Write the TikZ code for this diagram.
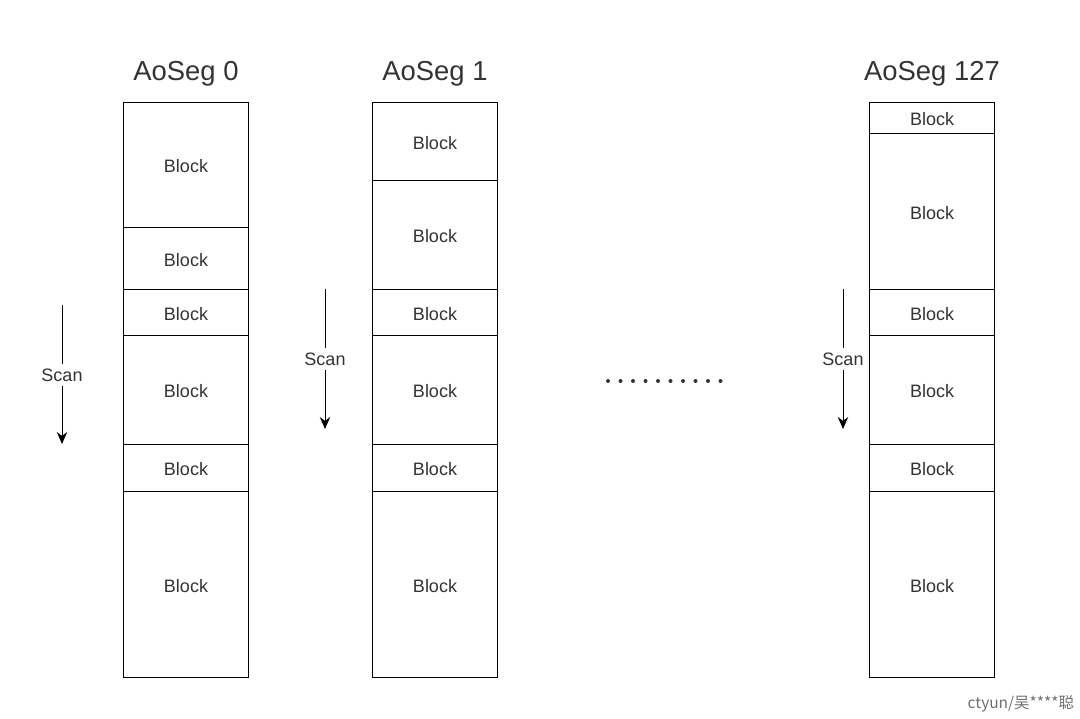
\documentclass[tikz,border=0pt]{standalone}
\usepackage{fontspec}
\setmainfont{Liberation Sans}
\newfontfamily\cjk{Noto Sans CJK SC}
\usetikzlibrary{arrows.meta, positioning}
\definecolor{inkgray}{HTML}{333333}
\definecolor{markgray}{HTML}{6E6E6E}

\begin{document}
\begin{tikzpicture}[
            x=0.025cm, y=-0.025cm,
            >={Stealth[length=3mm, width=2.6mm]},
            % Estilo dos blocos
            blockbox/.style={
                draw=black,
                fill=white,
                rectangle,
                minimum width=3.1cm,
                line width=0.7pt,
                inner sep=0pt,
                text height=12pt,
                text depth=0pt,
                text=inkgray,
                font=\fontsize{12.8}{14}\selectfont
            },
            % Estilo dos titulos
            segtitle/.style={
                text=inkgray,
                font=\fontsize{19.5}{22}\selectfont
            },
            % Estilo das setas de varredura
            scanline/.style={
                draw=black,
                line width=0.7pt
            },
            scanlabel/.style={
                text=inkgray,
                inner sep=3pt,
                font=\fontsize{12.8}{14}\selectfont
            }
        ]

            \useasboundingbox (0,0) rectangle (1080,718);

            % Titulos dos segmentos
            \node [segtitle] (title0) at (186,74) {AoSeg 0};
            \node [segtitle] (title1) at (435,74) {AoSeg 1};
            \node [segtitle] (title127) at (932,74) {AoSeg 127};

            % Blocos do AoSeg 0
            \foreach \a/\b/\i in {102/227/1, 227/289/2, 289/335/3, 335/444/4, 444/491/5, 491/677/6}
                \node [blockbox, minimum height={(\b-\a)*0.025cm}] (seg0b\i) at (186,{(\a+\b)/2}) {Block};

            % Blocos do AoSeg 1
            \foreach \a/\b/\i in {102/180/1, 180/289/2, 289/335/3, 335/444/4, 444/491/5, 491/677/6}
                \node [blockbox, minimum height={(\b-\a)*0.025cm}] (seg1b\i) at (435,{(\a+\b)/2}) {Block};

            % Blocos do AoSeg 127
            \foreach \a/\b/\i in {102/133/1, 133/289/2, 289/335/3, 335/444/4, 444/491/5, 491/677/6}
                \node [blockbox, minimum height={(\b-\a)*0.025cm}] (seg127b\i) at (932,{(\a+\b)/2}) {Block};

            % Setas de varredura
            \coordinate (scan0top) at (62,305);
            \node [scanlabel] (scan0) at (62,375) {Scan};
            \coordinate (scan0end) at (62,444);
            \draw [scanline] (scan0top) -- (scan0);
            \draw [scanline, ->] (scan0) -- (scan0end);

            \coordinate (scan1top) at (325,289);
            \node [scanlabel] (scan1) at (325,359) {Scan};
            \coordinate (scan1end) at (325,429);
            \draw [scanline] (scan1top) -- (scan1);
            \draw [scanline, ->] (scan1) -- (scan1end);

            \coordinate (scan127top) at (843,289);
            \node [scanlabel] (scan127) at (843,359) {Scan};
            \coordinate (scan127end) at (843,429);
            \draw [scanline] (scan127top) -- (scan127);
            \draw [scanline, ->] (scan127) -- (scan127end);

            % Reticencias entre os segmentos
            \foreach \k in {0,...,9}
                \fill [inkgray] ({608+12.5*\k},381) circle (2);

            % Marca d'agua
            \node [text=markgray, font=\cjk\fontsize{11}{12}\selectfont, anchor=east] (mark) at (1079,704) {ctyun/吴****聪};

        \end{tikzpicture}
\end{document}
